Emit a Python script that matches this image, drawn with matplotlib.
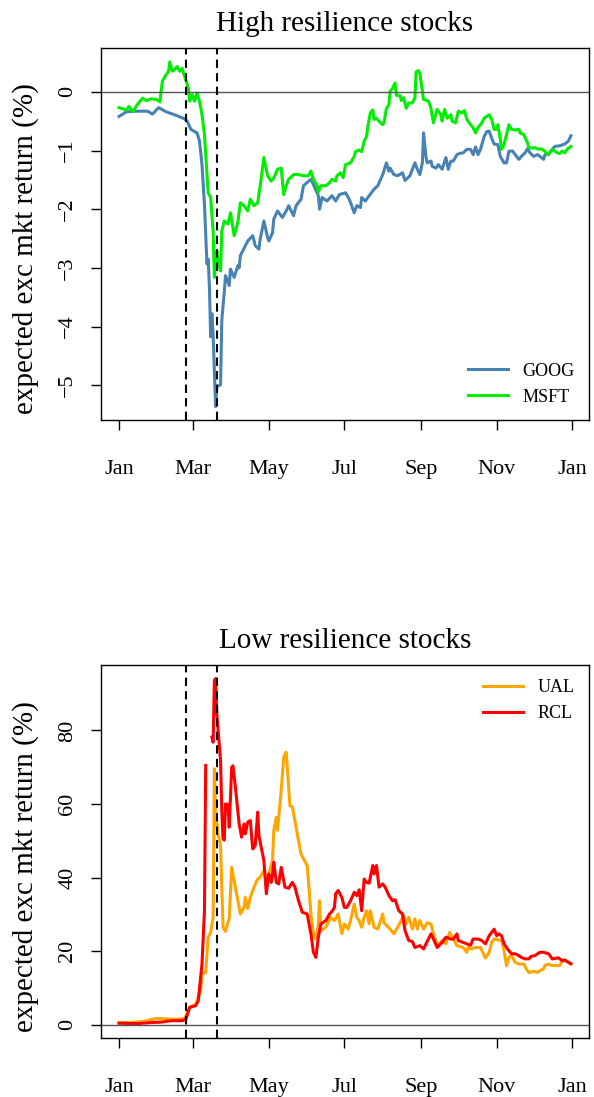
import numpy as np
import matplotlib
matplotlib.use("Agg")
import matplotlib.pyplot as plt

# days since 2020-01-01, values in %
goog_day = [0, 6, 14, 23, 27, 32, 38, 46, 53, 55, 58, 63, 65, 67, 69, 71, 72, 73, 74, 75,
            76, 78, 79, 82, 83, 85, 86, 89, 90, 93, 96, 97, 98, 104, 108, 110, 113, 114, 117, 120,
            121, 124, 125, 128, 132, 135, 137, 141, 143, 147, 149, 155, 157, 161, 162, 164, 168, 172, 175, 178,
            183, 186, 190, 192, 195, 196, 199, 202, 206, 209, 213, 216, 218, 219, 222, 225, 229, 231, 235, 239,
            241, 243, 245, 246, 248, 249, 252, 253, 256, 258, 261, 264, 266, 268, 270, 273, 275, 278, 281, 284,
            286, 288, 290, 292, 295, 297, 299, 301, 303, 306, 308, 311, 313, 315, 318, 320, 323, 325, 328, 330,
            332, 335, 338, 340, 343, 344, 347, 350, 352, 356, 360, 363, 365]
goog = [-0.42, -0.34, -0.33, -0.33, -0.38, -0.27, -0.34, -0.40, -0.46, -0.50, -0.64, -0.70, -0.84, -1.24, -1.92, -2.93, -2.85, -3.32, -4.17, -3.78,
        -4.15, -5.36, -5.02, -4.99, -3.89, -3.41, -3.13, -3.30, -3.02, -3.16, -2.96, -3.00, -2.79, -2.54, -2.45, -2.62, -2.68, -2.51, -2.20, -2.48,
        -2.54, -2.40, -2.17, -2.03, -2.14, -2.03, -1.94, -2.11, -1.94, -1.83, -1.60, -1.49, -1.58, -1.77, -2.00, -1.80, -1.86, -1.77, -1.86, -1.75,
        -1.72, -1.83, -2.06, -1.94, -1.97, -1.80, -1.86, -1.77, -1.66, -1.60, -1.41, -1.21, -1.35, -1.30, -1.41, -1.43, -1.38, -1.51, -1.43, -1.21,
        -1.32, -1.41, -1.21, -0.70, -1.12, -1.21, -1.18, -1.27, -1.30, -1.24, -1.32, -1.12, -1.32, -1.18, -1.18, -1.07, -1.05, -1.04, -0.98, -0.98,
        -1.07, -0.94, -1.07, -0.98, -0.76, -0.68, -0.67, -0.79, -0.89, -0.90, -1.10, -1.21, -1.21, -1.01, -1.01, -1.07, -1.15, -1.10, -1.04, -0.97,
        -1.04, -1.10, -1.07, -1.10, -1.15, -1.07, -1.07, -0.98, -0.93, -0.92, -0.89, -0.84, -0.75]

msft_day = [0, 6, 8, 11, 15, 19, 22, 26, 30, 33, 35, 38, 40, 41, 43, 45, 47, 49, 51, 52,
            54, 56, 57, 59, 61, 63, 65, 67, 69, 70, 72, 74, 76, 77, 79, 80, 82, 83, 85, 88,
            90, 93, 96, 98, 101, 104, 106, 109, 112, 114, 117, 120, 123, 125, 128, 131, 133, 135, 137, 141,
            145, 149, 153, 155, 157, 160, 161, 163, 167, 170, 172, 175, 176, 179, 181, 183, 187, 190, 191, 194,
            196, 198, 200, 201, 203, 205, 206, 208, 210, 213, 214, 216, 218, 219, 221, 223, 224, 227, 228, 230,
            232, 234, 237, 239, 240, 242, 243, 245, 246, 250, 252, 254, 257, 260, 261, 263, 265, 268, 269, 272,
            274, 277, 279, 281, 284, 286, 288, 290, 293, 295, 299, 301, 303, 305, 306, 308, 309, 311, 313, 315,
            317, 320, 323, 324, 327, 330, 331, 334, 336, 339, 341, 344, 346, 347, 350, 352, 354, 356, 358, 360,
            362, 365]
msft = [-0.27, -0.31, -0.25, -0.34, -0.21, -0.11, -0.15, -0.12, -0.13, -0.17, 0.18, 0.29, 0.35, 0.51, 0.35, 0.38, 0.43, 0.35, 0.40, 0.32,
        0.20, 0.06, -0.16, -0.05, -0.16, -0.02, -0.16, -0.39, -0.73, -1.07, -1.72, -1.80, -2.37, -3.16, -2.71, -2.88, -3.05, -2.37, -2.20, -2.25,
        -2.06, -2.45, -2.22, -1.89, -1.94, -2.03, -1.83, -1.94, -1.89, -1.60, -1.12, -1.43, -1.52, -1.47, -1.32, -1.30, -1.75, -1.60, -1.49, -1.41,
        -1.41, -1.43, -1.43, -1.35, -1.49, -1.60, -1.71, -1.60, -1.60, -1.55, -1.49, -1.52, -1.43, -1.38, -1.46, -1.24, -1.21, -1.10, -1.02, -0.99,
        -1.02, -0.84, -0.76, -0.59, -0.36, -0.31, -0.47, -0.45, -0.50, -0.56, -0.53, -0.28, -0.22, 0.01, 0.06, 0.15, -0.06, -0.06, -0.15, -0.10,
        -0.28, -0.19, -0.19, -0.10, 0.34, 0.36, 0.31, 0.01, -0.13, -0.16, -0.28, -0.53, -0.30, -0.39, -0.50, -0.30, -0.45, -0.39, -0.50, -0.53,
        -0.33, -0.36, -0.32, -0.47, -0.56, -0.61, -0.70, -0.61, -0.53, -0.45, -0.39, -0.47, -0.64, -0.64, -0.56, -0.81, -0.98, -0.90, -0.73, -0.56,
        -0.64, -0.65, -0.64, -0.70, -0.73, -0.87, -0.95, -0.96, -0.95, -0.98, -0.97, -1.01, -1.07, -1.06, -0.98, -1.01, -1.04, -1.05, -1.01, -1.04,
        -0.98, -0.93]

ual_day = [0, 10, 20, 30, 37, 47, 53, 57, 62, 66, 67, 70, 72, 74, 76, 77, 78, 80, 82, 84,
           86, 89, 91, 93, 96, 98, 101, 102, 104, 106, 109, 112, 114, 117, 119, 121, 124, 125, 127, 128,
           131, 133, 135, 136, 138, 140, 143, 147, 152, 153, 155, 157, 159, 161, 162, 163, 167, 171, 174, 177,
           180, 182, 185, 187, 190, 192, 194, 196, 198, 200, 202, 203, 206, 209, 213, 214, 217, 219, 222, 225,
           227, 230, 232, 234, 237, 239, 241, 243, 246, 249, 252, 254, 257, 261, 264, 267, 270, 273, 278, 281,
           282, 285, 288, 292, 296, 299, 301, 303, 307, 309, 311, 313, 315, 317, 320, 323, 327, 329, 331, 335,
           338, 340, 343, 344, 347, 350, 356, 358, 360, 363, 365]
ual = [0.6, 0.6, 0.9, 1.7, 1.6, 1.5, 1.7, 4.7, 5.6, 9.3, 13.8, 14.2, 23.8, 25.1, 29.2, 69.6, 58.2, 51.9, 48.7, 26.5,
       25.4, 29.0, 42.8, 39.2, 33.7, 30.1, 31.9, 34.6, 31.6, 34.6, 37.4, 39.6, 40.1, 41.9, 39.2, 41.0, 44.6, 52.8, 56.4, 52.9,
       63.7, 72.7, 74.1, 69.6, 59.6, 59.2, 53.7, 46.4, 43.3, 39.2, 30.1, 24.7, 23.3, 27.3, 33.7, 25.6, 26.5, 29.2, 28.3, 30.1,
       24.8, 27.4, 26.0, 28.3, 32.8, 29.2, 28.3, 26.5, 29.2, 31.0, 27.4, 31.0, 26.5, 26.0, 30.1, 27.7, 26.7, 26.0, 24.7, 26.5,
       27.7, 29.7, 27.4, 29.2, 26.0, 28.8, 26.0, 28.3, 26.0, 27.7, 27.4, 24.7, 21.5, 22.9, 22.0, 25.1, 23.3, 21.5, 21.0, 19.7,
       21.0, 20.6, 21.0, 21.0, 18.1, 19.7, 22.4, 23.3, 23.0, 22.9, 20.2, 16.1, 18.3, 18.8, 17.0, 16.5, 16.5, 15.2, 14.2, 14.5,
       14.2, 14.7, 15.2, 16.1, 16.5, 16.1, 16.1, 17.4, 17.4, 17.0, 16.5]

# RCL has a few missing days after the first spike
rcl_day = [0, 15, 26, 34, 42, 51, 54, 57, 62, 64, 67, 69, 70, 72, 75, 76, 77, 78, 79, 82,
           83, 84, 85, 86, 88, 89, 91, 92, 94, 97, 99, 101, 102, 104, 106, 108, 110, 112, 113, 116,
           117, 119, 121, 123, 124, 125, 127, 129, 131, 134, 137, 140, 142, 145, 148, 152, 155, 157, 159, 161,
           163, 167, 170, 172, 174, 175, 177, 180, 182, 184, 187, 190, 192, 194, 196, 198, 200, 202, 205, 206,
           208, 210, 213, 215, 218, 221, 223, 226, 229, 231, 234, 237, 239, 243, 246, 248, 252, 254, 257, 261,
           264, 268, 270, 273, 274, 277, 281, 284, 286, 290, 293, 296, 299, 301, 303, 305, 307, 309, 311, 315,
           317, 320, 323, 325, 328, 331, 333, 336, 340, 343, 347, 350, 352, 355, 358, 360, 363, 365]
rcl = [0.4, 0.3, 0.6, 0.7, 1.1, 1.1, 1.5, 4.7, 5.2, 6.5, 16.5, 31.0, 70.5, np.nan, 78.2, 76.8, 93.6, 94.1, 84.5, 71.8,
       58.2, 50.5, 50.2, 60.0, 59.9, 53.7, 70.0, 70.4, 64.6, 54.6, 51.0, 54.6, 51.9, 55.1, 55.5, 47.8, 48.7, 57.8, 51.4, 46.4,
       44.6, 35.6, 41.0, 38.7, 41.0, 44.2, 38.7, 38.3, 42.8, 37.4, 37.1, 38.7, 37.5, 33.7, 30.6, 30.1, 24.7, 19.7, 18.3, 23.8,
       27.4, 28.3, 30.1, 30.8, 31.9, 35.6, 36.5, 34.6, 31.9, 31.9, 33.7, 36.0, 35.1, 36.7, 31.0, 39.6, 38.7, 38.5, 43.3, 41.0,
       43.3, 37.4, 38.3, 37.4, 35.1, 33.7, 34.0, 31.0, 30.1, 25.6, 22.9, 22.6, 21.0, 21.5, 20.6, 22.0, 24.7, 23.3, 21.0, 22.4,
       23.8, 23.3, 23.3, 24.7, 22.9, 22.5, 22.0, 21.6, 23.3, 23.3, 22.9, 22.0, 24.2, 25.1, 26.0, 24.2, 24.7, 24.2, 22.0, 20.1,
       19.3, 19.3, 18.8, 18.3, 17.9, 17.9, 18.6, 18.8, 19.7, 19.7, 19.3, 17.9, 18.0, 18.2, 17.4, 17.6, 17.0, 16.6]

month_ticks = [0, 60, 121, 182, 244, 305, 366]
month_labels = ["Jan", "Mar", "May", "Jul", "Sep", "Nov", "Jan"]
event_days = [54, 79]

plt.rcParams['font.family'] = ['Liberation Serif', 'DejaVu Serif']
plt.rcParams['axes.linewidth'] = 1.0

fig = plt.figure(figsize=(5.94, 10.97), dpi=100)
ax1 = fig.add_axes([0.170, 0.6171, 0.8215, 0.3391])
ax2 = fig.add_axes([0.170, 0.0538, 0.8215, 0.3400])


def style(ax, title, yticks):
    ax.axhline(0, color="#555555", lw=1.0)
    for d in event_days:
        ax.axvline(d, color="black", lw=1.5, linestyle=(0, (4, 2.5)))
    ax.set_xlim(-14.6, 379.6)
    ax.set_xticks(month_ticks)
    ax.set_xticklabels(month_labels)
    ax.set_yticks(yticks)
    ax.tick_params(direction="out", length=7, width=1, labelsize=16)
    ax.tick_params(axis="x", pad=22)
    ax.tick_params(axis="y", pad=10)
    for lab in ax.get_yticklabels():
        lab.set_rotation(90)
        lab.set_va("center")
    ax.set_ylabel("expected exc mkt return (%)", fontsize=21)
    ax.yaxis.set_label_coords(-0.128, 0.46)
    ax.set_title(title, fontsize=21, pad=12)


ax1.plot(goog_day, goog, color="#4682B4", lw=2.2, label="GOOG")
ax1.plot(msft_day, msft, color="#00EE00", lw=2.2, label="MSFT")
ax1.set_ylim(-5.59, 0.745)
style(ax1, "High resilience stocks", [0, -1, -2, -3, -4, -5])
ax1.legend(loc="lower right", frameon=False, fontsize=13, handlelength=2.2, borderaxespad=0.4)

ax2.plot(ual_day, ual, color="#FFA500", lw=2.2, label="UAL")
ax2.plot(rcl_day, rcl, color="#FF0000", lw=2.2, label="RCL")
ax2.set_ylim(-3.6, 97.8)
style(ax2, "Low resilience stocks", [0, 20, 40, 60, 80])
ax2.legend(loc="upper right", frameon=False, fontsize=13, handlelength=2.2, borderaxespad=0.4)

fig.savefig("out.png", dpi=100)
